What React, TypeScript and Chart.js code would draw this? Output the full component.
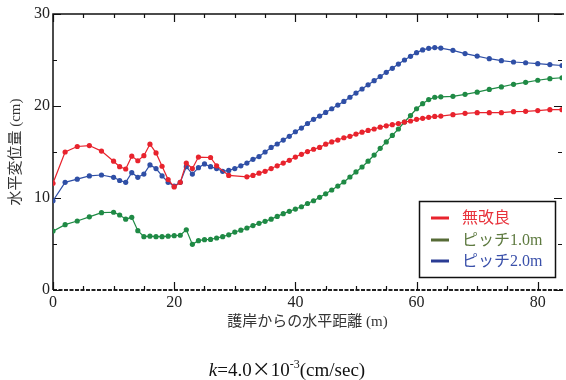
import { useEffect, useRef } from "react";
import { Chart, registerables } from "chart.js";
Chart.register(...registerables);

// 無改良
const redX = [0, 2, 4, 6, 8, 10, 11, 12, 13, 14, 15, 16, 17, 18, 19, 20, 21, 22, 23, 24, 26, 27, 29, 32, 33, 34, 35, 36, 37, 38, 39, 40, 41, 42, 43, 44, 45, 46, 47, 48, 49, 50, 51, 52, 53, 54, 55, 56, 57, 58, 59, 60, 61, 62, 63, 64, 66, 68, 70, 72, 74, 76, 78, 80, 82, 84];
const redY = [11.6, 15.0, 15.6, 15.7, 15.1, 14.0, 13.4, 13.15, 14.55, 14.05, 14.6, 15.85, 14.9, 13.45, 12.0, 11.2, 11.7, 13.8, 13.2, 14.45, 14.4, 13.5, 12.45, 12.3, 12.45, 12.7, 12.9, 13.2, 13.5, 13.8, 14.1, 14.45, 14.75, 15.05, 15.3, 15.5, 15.85, 16.1, 16.3, 16.55, 16.7, 16.95, 17.15, 17.35, 17.5, 17.7, 17.85, 17.97, 18.1, 18.25, 18.37, 18.55, 18.66, 18.77, 18.87, 18.9, 19.06, 19.2, 19.27, 19.27, 19.27, 19.38, 19.42, 19.5, 19.6, 19.6];

// ピッチ1.0m
const greenX = [0, 2, 4, 6, 8, 10, 11, 12, 13, 14, 15, 16, 17, 18, 19, 20, 21, 22, 23, 24, 25, 26, 27, 28, 29, 30, 31, 32, 33, 34, 35, 36, 37, 38, 39, 40, 41, 42, 43, 44, 45, 46, 47, 48, 49, 50, 51, 52, 53, 54, 55, 56, 57, 58, 59, 60, 61, 62, 63, 64, 66, 68, 70, 72, 74, 76, 78, 80, 82, 84];
const greenY = [6.4, 7.1, 7.5, 7.95, 8.4, 8.45, 8.15, 7.7, 7.9, 6.45, 5.8, 5.85, 5.8, 5.8, 5.85, 5.9, 5.95, 6.55, 4.96, 5.36, 5.47, 5.5, 5.65, 5.8, 6.0, 6.3, 6.5, 6.74, 7.0, 7.25, 7.47, 7.7, 8.0, 8.3, 8.55, 8.8, 9.05, 9.4, 9.7, 10.07, 10.45, 10.87, 11.3, 11.74, 12.28, 12.83, 13.37, 14.0, 14.67, 15.4, 16.1, 16.8, 17.5, 18.26, 18.97, 19.7, 20.25, 20.7, 20.95, 21.0, 21.05, 21.27, 21.5, 21.8, 22.07, 22.36, 22.57, 22.8, 22.97, 23.07];

// ピッチ2.0m
const blueX = [0, 2, 4, 6, 8, 10, 11, 12, 13, 14, 15, 16, 17, 18, 19, 20, 21, 22, 23, 24, 25, 26, 27, 28, 29, 30, 31, 32, 33, 34, 35, 36, 37, 38, 39, 40, 41, 42, 43, 44, 45, 46, 47, 48, 49, 50, 51, 52, 53, 54, 55, 56, 57, 58, 59, 60, 61, 62, 63, 64, 66, 68, 70, 72, 74, 76, 78, 80, 82, 84];
const blueY = [9.7, 11.7, 12.05, 12.4, 12.5, 12.25, 11.9, 11.7, 12.75, 12.25, 12.6, 13.6, 13.2, 12.4, 11.7, 11.3, 11.7, 13.4, 12.6, 13.3, 13.7, 13.4, 13.2, 12.9, 13.0, 13.2, 13.5, 13.8, 14.2, 14.5, 15.0, 15.5, 15.87, 16.3, 16.7, 17.2, 17.6, 18.1, 18.55, 18.9, 19.3, 19.7, 20.1, 20.5, 20.95, 21.4, 21.85, 22.3, 22.75, 23.2, 23.66, 24.1, 24.56, 25.0, 25.4, 25.8, 26.1, 26.27, 26.35, 26.3, 26.05, 25.7, 25.43, 25.14, 24.93, 24.78, 24.7, 24.6, 24.5, 24.4];

const seriesNames = ["無改良", "ピッチ1.0m", "ピッチ2.0m"];
const lineColors = ["#e8232d", "#1f8a45", "#2f4fa6"];
const legendLineColors = ["#e8232d", "#566b36", "#2a3c94"];
const legendTextColors = ["#e8323b", "#5e7a40", "#3a50aa"];

const xTitle = "護岸からの水平距離 (m)";
const yTitle = "水平変位量 (cm)";

const X_MIN = 0, X_MAX = 84, Y_MIN = 0, Y_MAX = 30;
const SERIF = "'Liberation Serif', 'Noto Sans CJK JP', serif";
const CJK = "'Noto Sans CJK JP', sans-serif";

const toPts = (xs: number[], ys: number[]) => xs.map((x, i) => ({ x, y: ys[i] }));

const decorPlugin = {
  id: "decor",
  beforeDatasetsDraw(chart: any) {
    const { ctx, chartArea: a, scales } = chart;
    const xs = scales.x, ys = scales.y;
    ctx.save();
    ctx.strokeStyle = "#111";
    ctx.lineWidth = 1.5;
    ctx.beginPath();
    ctx.moveTo(a.left, a.bottom);
    ctx.lineTo(a.left, a.top);
    ctx.lineTo(a.right + 2, a.top);
    ctx.stroke();
    ctx.save();
    ctx.setLineDash([4, 1.5]);
    ctx.lineWidth = 2;
    ctx.strokeStyle = "#222";
    ctx.beginPath();
    ctx.moveTo(a.left, a.bottom);
    ctx.lineTo(a.right + 2, a.bottom);
    ctx.stroke();
    ctx.restore();
    ctx.lineWidth = 1.2;
    ctx.strokeStyle = "#111";
    ctx.beginPath();
    for (let v = X_MIN; v <= X_MAX; v += 5) {
      const px = Math.round(xs.getPixelForValue(v)) + 0.5;
      const len = v % 20 === 0 ? 8 : 4;
      ctx.moveTo(px, a.bottom);
      ctx.lineTo(px, a.bottom - len);
      ctx.moveTo(px, a.top);
      ctx.lineTo(px, a.top + len);
    }
    for (let v = Y_MIN; v <= Y_MAX; v += 5) {
      const py = Math.round(ys.getPixelForValue(v)) + 0.5;
      const len = v % 10 === 0 ? 8 : 4;
      ctx.moveTo(a.left, py);
      ctx.lineTo(a.left + len, py);
      ctx.moveTo(a.right, py);
      ctx.lineTo(a.right - len, py);
    }
    ctx.stroke();
    ctx.restore();
  },
  afterDraw(chart: any) {
    const { ctx, chartArea: a } = chart;
    ctx.save();
    ctx.fillStyle = "#333";
    ctx.font = `15px ${SERIF}`;
    ctx.textAlign = "center";
    ctx.textBaseline = "middle";
    ctx.fillText(xTitle, (a.left + a.right) / 2, 322);
    ctx.save();
    ctx.translate(16, (a.top + a.bottom) / 2);
    ctx.rotate(-Math.PI / 2);
    ctx.fillText(yTitle, 0, 0);
    ctx.restore();

    const bx = 419.5, by = 201.5, bw = 136, bh = 76;
    ctx.fillStyle = "#fff";
    ctx.fillRect(bx, by, bw, bh);
    ctx.strokeStyle = "#111";
    ctx.lineWidth = 1.5;
    ctx.strokeRect(bx, by, bw, bh);
    const rows = [218, 240, 261];
    ctx.font = `16px ${SERIF}`;
    ctx.textAlign = "left";
    ctx.textBaseline = "middle";
    seriesNames.forEach((n, i) => {
      ctx.strokeStyle = legendLineColors[i];
      ctx.lineWidth = 3;
      ctx.beginPath();
      ctx.moveTo(431, rows[i]);
      ctx.lineTo(449, rows[i]);
      ctx.stroke();
      ctx.fillStyle = legendTextColors[i];
      ctx.fillText(n, 462, rows[i] + 1);
    });

    ctx.fillStyle = "#111";
    ctx.textBaseline = "alphabetic";
    const base = 376;
    const parts: [string, string, number][] = [
      ["k", `italic 19px ${SERIF}`, 0],
      ["=4.0", `19px ${SERIF}`, 0],
      ["×", `19px ${CJK}`, 0],
      ["10", `19px ${SERIF}`, 0],
      ["-3", `12px ${SERIF}`, -8],
      ["(cm/sec)", `19px ${SERIF}`, 0],
    ];
    let total = 0;
    parts.forEach(([t, f]) => { ctx.font = f; total += ctx.measureText(t).width; });
    let x = 287 - total / 2;
    parts.forEach(([t, f, dy]) => {
      ctx.font = f;
      ctx.fillText(t, x, base + dy);
      x += ctx.measureText(t).width;
    });
    ctx.restore();
  },
};

export default function App() {
  const ref = useRef<HTMLCanvasElement | null>(null);
  useEffect(() => {
    if (!ref.current) return;
    const mk = (i: number, xs: number[], ys: number[]) => ({
      label: seriesNames[i],
      data: toPts(xs, ys),
      borderColor: lineColors[i],
      backgroundColor: lineColors[i],
      borderWidth: 1.2,
      pointRadius: 2.6,
      pointBorderWidth: 0,
      pointBackgroundColor: lineColors[i],
      tension: 0,
    });
    const chart = new Chart(ref.current, {
      type: "line",
      data: {
        datasets: [mk(0, redX, redY), mk(1, greenX, greenY), mk(2, blueX, blueY)],
      },
      plugins: [decorPlugin],
      options: {
        animation: false,
        responsive: false,
        devicePixelRatio: 1,
        layout: { padding: { top: 14, left: 0, right: 0, bottom: 0 } },
        plugins: { legend: { display: false }, tooltip: { enabled: false } },
        scales: {
          x: {
            type: "linear",
            min: X_MIN,
            max: X_MAX,
            grid: { display: false, drawTicks: false },
            border: { display: false },
            ticks: {
              stepSize: 20,
              includeBounds: false,
              padding: 3,
              maxRotation: 0,
              color: "#222",
              font: { family: SERIF, size: 16 },
              callback: (v: any) => (v % 20 === 0 ? String(v) : ""),
            },
            afterFit: (s: any) => { s.height = 90; },
          },
          y: {
            type: "linear",
            min: Y_MIN,
            max: Y_MAX,
            grid: { display: false, drawTicks: false },
            border: { display: false },
            ticks: {
              stepSize: 10,
              padding: 3,
              color: "#222",
              font: { family: SERIF, size: 16 },
            },
            afterFit: (s: any) => { s.width = 53; },
          },
        },
      } as any,
    });
    return () => chart.destroy();
  }, []);
  return (
    <div style={{ position: "absolute", left: 0, top: 0, width: 566, height: 380, background: "#fff" }}>
      <canvas ref={ref} width={566} height={380} style={{ display: "block" }} />
    </div>
  );
}
